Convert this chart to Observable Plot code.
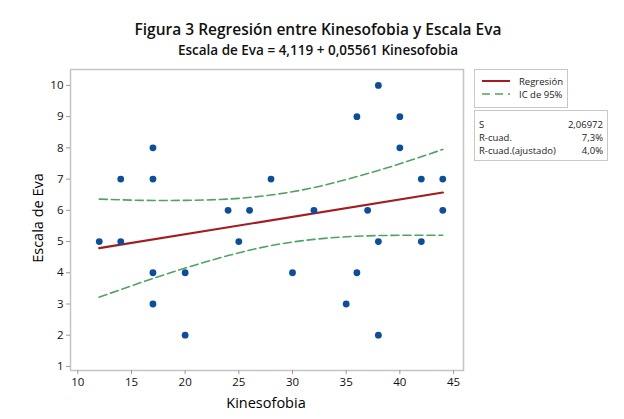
<!DOCTYPE html>
<html>
<head>
<meta charset="utf-8">
<script src="https://cdn.jsdelivr.net/npm/d3@7"></script>
<script src="https://cdn.jsdelivr.net/npm/@observablehq/plot@0.6"></script>
<style>
  html, body { margin: 0; padding: 0; background: #fff; }
  #wrap { position: relative; width: 624px; height: 419px; font-family: "Open Sans", "Noto Sans", sans-serif; }
  .title { position: absolute; left: 0; width: 636px; text-align: center; color: #111; line-height: 16px; white-space: nowrap; }
  .box { position: absolute; border: 1px solid #c8c8c8; background: #fff; box-sizing: border-box; font-size: 9.5px; color: #222; }
</style>
</head>
<body>
<div id="wrap"></div>
<script>
// Data
const kinesofobia = [12, 14, 14, 17, 17, 17, 17, 20, 20, 24, 25, 26, 28, 30, 32, 35, 36, 36, 37, 38, 38, 38, 40, 40, 42, 42, 44, 44];
const escalaEva   = [ 5,  7,  5,  8,  7,  4,  3,  4,  2,  6,  5,  6,  7,  4,  6,  3,  9,  4,  6, 10,  5,  2,  9,  8,  7,  5,  7,  6];

// Fitted line (endpoints) and 95% confidence interval
const regX = [12, 44];
const regY = [4.79, 6.57];
const ciX     = [12,   16,   20,   24,   28,   32,   36,   40,   44];
const ciLower = [3.22, 3.70, 4.15, 4.55, 4.87, 5.07, 5.17, 5.20, 5.20];
const ciUpper = [6.36, 6.32, 6.32, 6.36, 6.49, 6.73, 7.08, 7.49, 7.95];

const xTicks = [10, 15, 20, 25, 30, 35, 40, 45];
const yTicks = [1, 2, 3, 4, 5, 6, 7, 8, 9, 10];

const titleText = "Figura 3 Regresión entre Kinesofobia y Escala Eva";
const subtitleText = "Escala de Eva = 4,119 + 0,05561 Kinesofobia";
const legendLabels = ["Regresión", "IC de 95%"];
const statLabels = ["S", "R-cuad.", "R-cuad.(ajustado)"];
const statValues = ["2,06972", "7,3%", "4,0%"];

const points = kinesofobia.map((x, i) => ({x, y: escalaEva[i]}));
const reg = regX.map((x, i) => ({x, y: regY[i]}));
const lower = ciX.map((x, i) => ({x, y: ciLower[i]}));
const upper = ciX.map((x, i) => ({x, y: ciUpper[i]}));

const RED = "#a11d21", GREEN = "#4fa463", BLUE = "#0a4f9e";

const chart = Plot.plot({
  width: 624,
  height: 419,
  marginLeft: 70,
  marginRight: 161,
  marginTop: 69,
  marginBottom: 49,
  style: { fontFamily: "'Open Sans', 'Noto Sans', sans-serif", fontSize: "11px", color: "#111", background: "#fff" },
  x: { domain: [9.32, 45.93], ticks: xTicks, tickFormat: d => d, tickSize: 4, label: null },
  y: { domain: [0.87, 10.51], ticks: yTicks, tickFormat: d => d, tickSize: 4, label: null },
  marks: [
    Plot.frame({ stroke: "#c4c4c4", strokeWidth: 1.5 }),
    Plot.axisX({ ticks: xTicks, tickSize: 4, tickPadding: 3, stroke: "#9a9a9a", fill: "#111", fontSize: 11.5, label: null }),
    Plot.axisY({ ticks: yTicks, tickSize: 4, tickPadding: 3, stroke: "#9a9a9a", fill: "#111", fontSize: 11.5, label: null }),
    Plot.line(lower, { x: "x", y: "y", curve: "natural", stroke: GREEN, strokeWidth: 1.6, strokeDasharray: "8,4" }),
    Plot.line(upper, { x: "x", y: "y", curve: "natural", stroke: GREEN, strokeWidth: 1.6, strokeDasharray: "8,4" }),
    Plot.line(reg, { x: "x", y: "y", stroke: RED, strokeWidth: 2.2 }),
    Plot.dot(points, { x: "x", y: "y", r: 3.4, fill: BLUE, stroke: "none" })
  ]
});

const wrap = document.getElementById("wrap");
wrap.appendChild(chart);

// axis labels inside svg
const svg = d3.select(chart);
svg.append("text").attr("x", 266).attr("y", 408).attr("text-anchor", "middle")
  .attr("font-size", 14.5).attr("font-weight", 500).attr("fill", "#000").text("Kinesofobia");
svg.append("text").attr("transform", "translate(43,218) rotate(-90)").attr("text-anchor", "middle")
  .attr("font-size", 14.5).attr("font-weight", 500).attr("fill", "#000").text("Escala de Eva");

// title
const t1 = document.createElement("div");
t1.className = "title"; t1.style.top = "21px"; t1.style.fontSize = "15.5px"; t1.style.fontWeight = "600";
t1.textContent = titleText; wrap.appendChild(t1);
const t2 = document.createElement("div");
t2.className = "title"; t2.style.top = "41.5px"; t2.style.fontSize = "13.5px"; t2.style.fontWeight = "600";
t2.textContent = subtitleText; wrap.appendChild(t2);

// legend box
const lg = document.createElement("div");
lg.className = "box";
Object.assign(lg.style, { left: "474px", top: "69px", width: "94px", height: "39px" });
lg.innerHTML = legendLabels.map((l, i) =>
  `<div style="position:absolute;left:7px;top:${5 + i * 13}px;height:12px;display:flex;align-items:center;">
     <svg width="28" height="6"><line x1="0" y1="3" x2="28" y2="3" stroke="${i === 0 ? RED : GREEN}" stroke-width="${i === 0 ? 2 : 1.5}" ${i === 1 ? 'stroke-dasharray="8,5"' : ''}/></svg>
     <span style="margin-left:9px">${l}</span></div>`).join("");
wrap.appendChild(lg);

// stats box
const st = document.createElement("div");
st.className = "box";
Object.assign(st.style, { left: "474px", top: "110px", width: "134px", height: "51px" });
st.innerHTML = statLabels.map((l, i) =>
  `<div style="position:absolute;left:4px;right:4px;top:${7 + i * 13}px;display:flex;justify-content:space-between;font-size:9.5px;">
     <span>${l}</span><span>${statValues[i]}</span></div>`).join("");
wrap.appendChild(st);
</script>
</body>
</html>
